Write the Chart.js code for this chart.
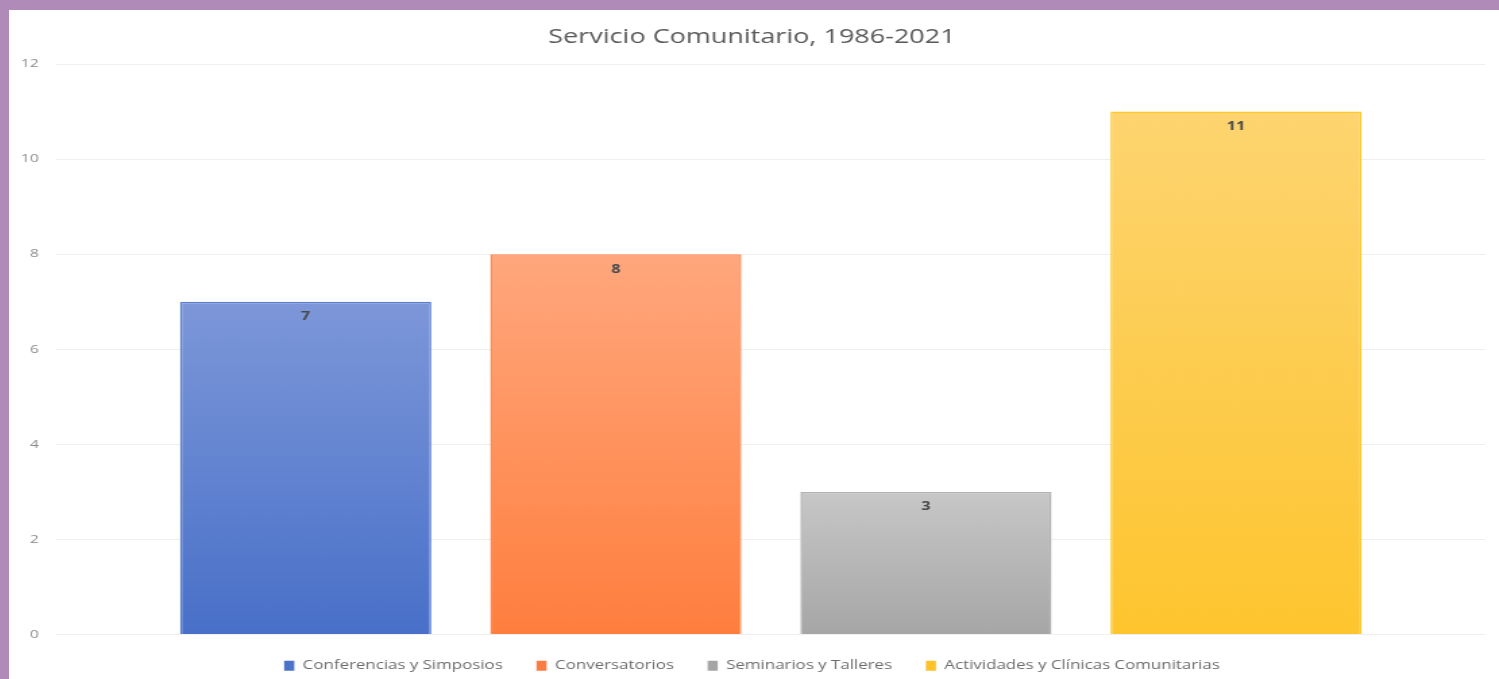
<!DOCTYPE html>
<html>
<head>
<meta charset="utf-8">
<script src="https://cdn.jsdelivr.net/npm/chart.js@4.4.0/dist/chart.umd.min.js"></script>
<style>
  html, body { margin: 0; padding: 0; }
  body { width: 1499px; height: 679px; background: #b08ab8; position: relative; overflow: hidden; }
  #wrap { position: absolute; left: 9px; top: 10px; width: 1490px; height: 669px; background: #ffffff; overflow: hidden; }
  canvas { display: block; transform-origin: 0 0; transform: scaleX(1.3496); }
</style>
</head>
<body>
<div id="wrap"><canvas id="c" width="1104" height="672"></canvas></div>
<script>
const titleText = "Servicio Comunitario, 1986-2021";
const seriesNames = ["Conferencias y Simposios", "Conversatorios", "Seminarios y Talleres", "Actividades y Clínicas Comunitarias"];
const seriesValues = [7, 8, 3, 11];
const yTicks = [0, 2, 4, 6, 8, 10, 12];

const topColors = ["#7d97d9", "#ffa77d", "#c7c7c7", "#fdd470"];
const bottomColors = ["#4870c8", "#ff7e3e", "#a6a6a6", "#fec52e"];
const borderColors = ["#5a7fd0", "#ff8a4f", "#b0b0b0", "#ffc92a"];
const legendColors = ["#4a72c8", "#fb7d43", "#a5a5a5", "#fdc22a"];

function makeGradient(i) {
  return function(ctx) {
    const chart = ctx.chart;
    const area = chart.chartArea;
    if (!area) return topColors[i];
    const y = chart.scales.y;
    const top = y.getPixelForValue(seriesValues[i]);
    const bottom = y.getPixelForValue(0);
    const g = chart.ctx.createLinearGradient(0, top, 0, bottom);
    g.addColorStop(0, topColors[i]);
    g.addColorStop(1, bottomColors[i]);
    return g;
  };
}

const datasets = seriesNames.map((name, i) => ({
  label: name,
  data: [seriesValues[i]],
  backgroundColor: makeGradient(i),
  borderColor: borderColors[i],
  borderWidth: 1.5,
  borderSkipped: 'bottom',
  categoryPercentage: 0.868,
  barPercentage: 0.81
}));

const valueLabels = {
  id: 'valueLabels',
  afterDatasetsDraw(chart) {
    const ctx = chart.ctx;
    ctx.save();
    ctx.font = "bold 12px 'Open Sans'";
    ctx.fillStyle = "#4a4a4a";
    ctx.textAlign = "center";
    ctx.textBaseline = "middle";
    chart.data.datasets.forEach((ds, i) => {
      const meta = chart.getDatasetMeta(i);
      meta.data.forEach((bar, j) => {
        ctx.fillText(String(ds.data[j]), bar.x, bar.y + 15);
      });
    });
    ctx.restore();
  }
};

new Chart(document.getElementById('c'), {
  type: 'bar',
  data: { labels: [""], datasets },
  options: {
    responsive: false,
    animation: false,
    layout: { padding: { left: 7, right: 10, top: 0, bottom: 0 } },
    plugins: {
      title: {
        display: true,
        text: titleText,
        color: "#595959",
        font: { family: "'Open Sans'", size: 20, weight: 'normal', lineHeight: 1.2 },
        padding: { top: 15, bottom: 15 }
      },
      legend: {
        position: 'bottom',
        labels: {
          boxWidth: 7.5,
          boxHeight: 10,
          padding: 25,
          color: "#6b6b6b",
          font: { family: "'Open Sans'", size: 12.5, lineHeight: 1 },
          generateLabels(chart) {
            return chart.data.datasets.map((ds, i) => ({
              text: ds.label,
              fillStyle: legendColors[i],
              strokeStyle: legendColors[i],
              lineWidth: 0,
              hidden: false,
              datasetIndex: i,
              fontColor: "#6b6b6b"
            }));
          }
        }
      },
      tooltip: { enabled: false }
    },
    scales: {
      x: {
        display: false
      },
      y: {
        min: 0,
        max: 12,
        afterBuildTicks(scale) { scale.ticks = yTicks.map(v => ({ value: v })); },
        afterFit(scale) { scale.width = 28; },
        grid: { color: "#efefef", drawTicks: false },
        border: { display: false },
        ticks: {
          padding: 13,
          color: "#8a8a8a",
          font: { family: "'Open Sans'", size: 11.5 }
        }
      }
    }
  },
  plugins: [valueLabels]
});
</script>
</body>
</html>
